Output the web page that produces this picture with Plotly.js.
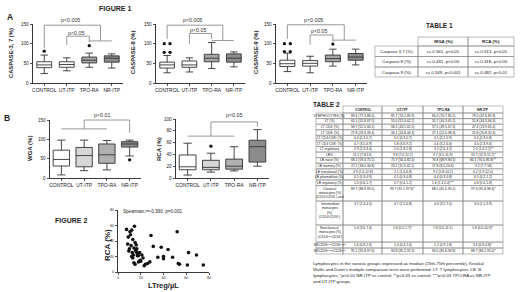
<!DOCTYPE html>
<html><head><meta charset="utf-8">
<script src="https://cdn.plot.ly/plotly-3.0.1.min.js"></script>
<style>html,body{margin:0;padding:0;background:#fff}#chart{width:520px;height:292px}</style>
</head><body><div id="chart"></div>
<script>
const W=520,H=292;
const fam='"Liberation Sans", Arial, sans-serif';
const groups=['CONTROL','UT-ITP','TPO-RA','NR-ITP'];

// FIGURE 1A - Caspase-3,7 (%)
const c37Low=[24,31,40,38];
const c37Q1=[39,40,51,53];
const c37Med=[46,47,58,63];
const c37Q3=[54,54,66,69];
const c37High=[71,64,76,74];
const c37OutGroup=['CONTROL','TPO-RA'];
const c37OutVal=[81,95];
// Caspase-8 (%)
const c8Low=[26,28,37,41];
const c8Q1=[38,40,54,53];
const c8Med=[46,46,63,63];
const c8Q3=[53,56,73,74];
const c8High=[70,64,103,79];
const c8OutGroup=['CONTROL','CONTROL','CONTROL','CONTROL'];
const c8OutVal=[100,100,78,78];
// Caspase-9 (%)
const c9Low=[29,26,43,46];
const c9Q1=[42,43,54,58];
const c9Med=[49,50,62,66];
const c9Q3=[58,57,71,75];
const c9High=[76,68,86,86];
const c9OutGroup=['CONTROL','CONTROL','CONTROL','CONTROL','TPO-RA'];
const c9OutVal=[100,100,80,80,99];
// FIGURE 1B - WGA (%)
const wgaLow=[8,19,21,57];
const wgaQ1=[31,29,38,80];
const wgaMed=[48,58,60,88];
const wgaQ3=[72,79,88,94];
const wgaHigh=[98,98,97,98];
const wgaOutGroup=['NR-ITP'];
const wgaOutVal=[47];
// RCA (%)
const rcaLow=[5,10,12,20];
const rcaQ1=[14,14,15,27];
const rcaMed=[19,18,20,53];
const rcaQ3=[39,30,32,64];
const rcaHigh=[59,42,53,82];
const rcaOutGroup=['UT-ITP'];
const rcaOutVal=[54];

// FIGURE 2 - scatter
const ltreg=[7.5,9,10.5,11,12,13,14.5,15,16,8.5,9.5,10,11.5,12.5,13.5,14,15.5,16.5,17,18,19,20,21,22,23,12,13,14,15,16,17,18,19.5,24,26,28,29,31,35,38,40,40,44,48,52,53,54,61,62,69,75];
const rcaPct=[55,45,52,48,54,42,59,38,35,36,27,30,34,25,22,31,28,30,24,21,25,14,22,18,8,20,18,12,10,26,21,13,15,10,11,13,47,33,19,32,20,17,29,19,52,11,10,9,25,22,9];
const spearman='Spearman r=-0.390, p=0.001';

// TABLE 1
const t1Head=['WGA (%)','RCA (%)'];
const t1Rows=['Caspase 3,7 (%)','Caspase 8 (%)','Caspase 9 (%)'];
const t1Wga=['r= 0.561, p&lt;0.01','r= 0.431, p&lt;0.05','r= 0.549, p&lt;0.001'];
const t1Rca=['r= 0.513, p&lt;0.01','r= 0.318, p&lt;0.05','r= 0.482, p&lt;0.01'];

// TABLE 2 (multi-line labels split by "|")
const t2Head=['CONTROL','UT-ITP','TPO-RA','NR-ITP'];
const t2Labels=['LYMPHOCYTES (%)','LT (%)','LT CD4⁺ (%)','LT CD8⁺ (%)','LT CD4⁺CD8⁺ (%)','LT CD4⁻CD8⁻ (%)','LT regulatory','LB%','LB naive (%)','LB memory (%)','LB transitional (%)','LB plasmablast (%)','LB regulatory (%)','Classical|monocytes (%)|(CD14⁺CD16⁻) and','Intermediate|monocytes|(%)|(CD14⁺CD16⁺)','Nonclassical|monocytes (%)|(CD14ᵈⁱᵐCD16⁺)','NKCD56ᵈⁱᵐCD16ᵇʳⁱᵍʰᵗ','NKCD56ᵇʳⁱᵍʰᵗCD16ᵈⁱᵐ'];
const t2Control=['83.6 (77.3-86.0)','61.5 (55.8-67.5)','58.7 (52.5-66.1)','27.8 (23.3-33.4)','0.4 (0.3-0.7)','4.7 (3.5-6.9)','2.9 (2.3-3.4)','11.2 (7.8-13)','68.2 (59.4-75.1)','27.2 (18.0-34.8)','4.9 (2.4-12.8)','0.5 (0.3-0.9)','1.0 (0.6-1.7)','89.7 (88.9-93.5)','3.7 (2.4-4.5)','5.4 (3.6-7.4)','1.6 (0.8-2.6)','95.1 (91.8-97.0)'];
const t2UtItp=['81.7 (74.2-85.9)','55.0 (52.0-62.2)','58.2 (43.1-61.5)','34.1 (24.8-44.3)','0.5 (0.3-0.7)','5.8 (3.6-9.2)','2.4 (1.8-2.8)','9.8 (7.0-12.2)','71.7 (56.4-82.0)','23.2 (11.9-42.1)','2.1 (1.4-6.8)','0.5 (0.3-0.8)','0.7 (0.4-1.2)','93.7 (91.1-97.8)*','4.7 (1.5-6.8)','1.6 (0.5-2.7)*','1.0 (0.4-2.0)','94.8 (85.2-92.3)'];
const t2TpoRa=['80.0 (70.7-85.5)','55.7 (44.3-65.1)','57.5 (49.5-67.3)','27.1 (22.0-38.3)','0.5 (0.2-0.9)','4.6 (3.2-6.6)','3.2 (2.6-4.2)','9.7 (6.5-11.9)','76.8 (68.9-80.5)','17.8 (8.5-24.6)','9.2 (5.8-14.2)','0.4 (0.3-0.8)','1.6 (1.3-2.4)***','88.5 (81.6-90.1)','4.4 (3.2-7.5)','7.8 (5.6-11.1)','1.2 (0.9-1.8)','90.5 (81.8-94.8)'];
const t2NrItp=['79.0 (47.6-85.8)','55.8 (44.3-64.4)','47.4 (23.9-65.4)','25.8 (20.8-32.4)','0.5 (0.3-0.8)','4.0 (2.3-9.4)','2.0 (1.4-2.2)**','13.7 (12.9-15.7)*','84.1 (70.0-85.8)**','9.2 (7.7-58)','6.2 (1.9-12.0)','0.5 (0.2-1.2)','0.8 (0.4-1.8)','97.3 (91.8-98.4)*','3.0 (1.1-3.9)','1.8 (0.6-10.9)*','3.6 (0.9-4.8)*','88.7 (84.1-93.4)*'];
const footnoteLines=["Lymphocytes in the various groups expressed as median (25th-75th percentile). Kruskal","Wallis and Dunn's multiple comparison tests were performed: LT: T lymphocytes; LB: B","lymphocytes; *p&lt;0.01 NR-ITP vs control; **p&lt;0.05 vs control; ***p&lt;0.05 TPO-RA vs NR-ITP","and UT-ITP groups."];

// ---------- layout helpers (positions/styles) ----------
const P={
 a1:{xa:'x',ya:'y',px:[33,123],py:[24,83],yr:[0,150]},
 a2:{xa:'x2',ya:'y2',px:[156,245],py:[24,83],yr:[0,150]},
 a3:{xa:'x3',ya:'y3',px:[276,367],py:[24,83],yr:[0,150]},
 b1:{xa:'x4',ya:'y4',px:[50,141],py:[120,178],yr:[0,150]},
 b2:{xa:'x5',ya:'y5',px:[176,269],py:[119,178],yr:[0,100]},
 f2:{xa:'x6',ya:'y6',px:[118,209],py:[210,272],yr:[0,80],xr:[0,80]}
};
const data=[],shapes=[],ann=[];
function X(p,v){const r=p.xr||[-0.5,3.5];return (p.px[0]+(v-r[0])/(r[1]-r[0])*(p.px[1]-p.px[0]))/W;}
function Y(p,v){return 1-(p.py[1]-(v-p.yr[0])/(p.yr[1]-p.yr[0])*(p.py[1]-p.py[0]))/H;}
function seg(x0,y0,x1,y1,c,w){shapes.push({type:'line',xref:'paper',yref:'paper',x0,y0,x1,y1,line:{color:c||'#8c8c8c',width:w||0.9}});}
function txt(x,y,t,size,o,bold,color){ann.push(Object.assign({xref:'paper',yref:'paper',x,y,text:t,showarrow:false,xanchor:'center',yanchor:'middle',borderpad:0,
  font:{family:fam,size:size,color:color||'#222',weight:bold?'bold':'normal'}},o||{}));}
function pxT(xp,yp,t,size,o,bold,color){txt(xp/W,1-yp/H,t,size,o,bold,color);}
function bracket(p,xl,xr,yt,yl,yr){seg(X(p,xl),Y(p,yl),X(p,xl),Y(p,yt));seg(X(p,xl),Y(p,yt),X(p,xr),Y(p,yt));seg(X(p,xr),Y(p,yt),X(p,xr),Y(p,yr));}
function gline(p,x0,x1,y){seg(X(p,x0),Y(p,y),X(p,x1),Y(p,y));}
function ptxt(p,x,v,t){txt(X(p,x),Y(p,v),t,5.3,null,false,'#333');}
function axName(a){return a[0]+'axis'+a.slice(1);}

const fillsA=['#ffffff','#ffffff','#a6a6a6','#8c8c8c'];
const fillsB=['#ffffff','#d6d6d6','#b0b0b0','#8c8c8c'];
function addBoxes(p,low,q1,med,q3,high,fills,width){
  groups.forEach((g,i)=>{
    data.push({type:'box',xaxis:p.xa,yaxis:p.ya,x:[i],lowerfence:[low[i]],q1:[q1[i]],median:[med[i]],q3:[q3[i]],upperfence:[high[i]],
      width:width,whiskerwidth:0.5,fillcolor:fills[i],line:{color:'#333',width:0.9},boxpoints:false,hoverinfo:'skip',showlegend:false});
  });
}
function addOut(p,og,ov){
  const xs=[];
  og.forEach((g,i)=>{
    const gi=groups.indexOf(g);
    let before=0,partner=false;
    og.forEach((g2,j)=>{if(j!==i&&g2===g&&Math.abs(ov[j]-ov[i])<3){partner=true;if(j<i)before++;}});
    xs.push(partner?gi+(before===0?-0.13:0.13):gi);
  });
  data.push({type:'scatter',mode:'markers',xaxis:p.xa,yaxis:p.ya,x:xs,y:ov,marker:{color:'#111',size:3.3},hoverinfo:'skip',showlegend:false,cliponaxis:false});
}

addBoxes(P.a1,c37Low,c37Q1,c37Med,c37Q3,c37High,fillsA,0.66); addOut(P.a1,c37OutGroup,c37OutVal);
addBoxes(P.a2,c8Low,c8Q1,c8Med,c8Q3,c8High,fillsA,0.66); addOut(P.a2,c8OutGroup,c8OutVal);
addBoxes(P.a3,c9Low,c9Q1,c9Med,c9Q3,c9High,fillsA,0.66); addOut(P.a3,c9OutGroup,c9OutVal);
addBoxes(P.b1,wgaLow,wgaQ1,wgaMed,wgaQ3,wgaHigh,fillsB,0.72); addOut(P.b1,wgaOutGroup,wgaOutVal);
addBoxes(P.b2,rcaLow,rcaQ1,rcaMed,rcaQ3,rcaHigh,fillsB,0.72); addOut(P.b2,rcaOutGroup,rcaOutVal);
data.push({type:'scatter',mode:'markers',xaxis:'x6',yaxis:'y6',x:ltreg,y:rcaPct,marker:{color:'#111',size:3.6},hoverinfo:'skip',showlegend:false,cliponaxis:false});

const layout={width:W,height:H,margin:{l:0,r:0,t:0,b:0},paper_bgcolor:'#fff',plot_bgcolor:'#fff',showlegend:false,
  font:{family:fam,color:'#222'},boxmode:'overlay',shapes:shapes,annotations:ann};

function setAxes(p,cat,yvals,tfx,tfy,xvals){
  layout[axName(p.xa)]={domain:[p.px[0]/W,p.px[1]/W],range:p.xr||[-0.5,3.5],anchor:p.ya,tickangle:0,
    tickvals:cat?[0,1,2,3]:xvals,ticktext:cat?groups:xvals.map(String),tickfont:{size:tfx,family:fam,color:'#222'},
    showline:true,linecolor:'#222',linewidth:0.9,ticks:'outside',ticklen:2,tickwidth:0.8,tickcolor:'#222',
    showgrid:false,zeroline:false,fixedrange:true};
  layout[axName(p.ya)]={domain:[1-p.py[1]/H,1-p.py[0]/H],range:p.yr,anchor:p.xa,
    tickvals:yvals,ticktext:yvals.map(String),tickfont:{size:tfy,family:fam,color:'#222'},
    showline:true,linecolor:'#222',linewidth:0.9,ticks:'outside',ticklen:2.5,tickwidth:0.8,tickcolor:'#222',
    showgrid:false,zeroline:false,fixedrange:true};
}
setAxes(P.a1,true,[0,50,100,150],5,4.6);
setAxes(P.a2,true,[0,50,100,150],5,4.6);
setAxes(P.a3,true,[0,50,100,150],5,4.6);
setAxes(P.b1,true,[0,50,100,150],5,4.6);
setAxes(P.b2,true,[0,20,40,60,80,100],5,4.6);
setAxes(P.f2,false,[0,20,40,60,80],3.6,3.6,[0,20,40,60,80]);

// significance brackets
bracket(P.a1,0,2.5,147,89,107); gline(P.a1,2,3,107); bracket(P.a1,1,2,119,97,104);
ptxt(P.a1,1.15,160,'p&lt;0.005'); ptxt(P.a1,1.4,128,'p&lt;0.05');
bracket(P.a2,0,2.5,147,112,108); gline(P.a2,2,3,108); bracket(P.a2,1,2,126,100,112);
ptxt(P.a2,1.15,160,'p&lt;0.005'); ptxt(P.a2,1.4,135,'p&lt;0.05');
bracket(P.a3,0,2.5,148,112,109); gline(P.a3,2,3,109); bracket(P.a3,1,2,122,97,105);
ptxt(P.a3,1.15,160,'p&lt;0.005'); ptxt(P.a3,1.4,131,'p&lt;0.05');
gline(P.b1,0,2,127); bracket(P.b1,1,3,150,127,117); ptxt(P.b1,1.8,163,'p&lt;0.01');
gline(P.b2,0,2,71); bracket(P.b2,1,3,95,71,87); ptxt(P.b2,2,107,'p&lt;0.05');

// titles and axis titles
pxT(115,8.5,'FIGURE 1',7,null,true);
pxT(9.5,17.5,'A',8.5,null,true);
pxT(7,117.5,'B',8.5,null,true);
pxT(71,220,'FIGURE 2',7,null,true);
pxT(439,25,'TABLE 1',6.5,null,true);
pxT(326,104,'TABLE 2',6.5,null,true);
const yt={textangle:-90};
pxT(11,53,'CASPASE-3, 7 (%)',5.8,yt,true);
pxT(133,53,'CASPASE-8 (%)',5.8,yt,true);
pxT(256,53,'CASPASE-9 (%)',5.8,yt,true);
pxT(30,149,'WGA (%)',6,yt,true);
pxT(159,149,'RCA (%)',6,yt,true);
pxT(107,245,'RCA (%)',8,yt,true);
pxT(163,285,'LTreg/µL',7.5,null,true);
txt(122/W,1-211/H,spearman,4.6,{xanchor:'left'});

// TABLE 1 (grid + text)
function rect(x0,y0,x1,y1){shapes.push({type:'rect',xref:'paper',yref:'paper',x0:x0/W,x1:x1/W,y0:1-y0/H,y1:1-y1/H,line:{color:'#8a8a8a',width:0.6},fillcolor:'rgba(0,0,0,0)'});}
const t1X=[375,418,468,514], t1Y=[37,46,56.5,67,77];
t1Head.forEach((h,c)=>{rect(t1X[c+1],t1Y[0],t1X[c+2],t1Y[1]);pxT((t1X[c+1]+t1X[c+2])/2,(t1Y[0]+t1Y[1])/2,h,4.4,null,true);});
[t1Rows,t1Wga,t1Rca].forEach((col,c)=>{
  col.forEach((v,r)=>{rect(t1X[c],t1Y[r+1],t1X[c+1],t1Y[r+2]);pxT((t1X[c]+t1X[c+1])/2,(t1Y[r+1]+t1Y[r+2])/2,v,4.4);});
});

// TABLE 2 (grid + text)
const t2X=[316,343,382,423,463,503], t2HeadY=[106,113];
const t2RowH=[5.58,5.58,5.58,5.58,5.58,5.58,5.58,5.58,5.58,5.58,5.58,5.58,5.58,15.5,24,17,6,6];
const t2Line=4.4;
t2Head.forEach((h,c)=>{rect(t2X[c+1],t2HeadY[0],t2X[c+2],t2HeadY[1]);pxT((t2X[c+1]+t2X[c+2])/2,(t2HeadY[0]+t2HeadY[1])/2,h,3.3,null,true);});
let yy=t2HeadY[1];
t2Labels.forEach((lab,r)=>{
  const h=t2RowH[r];
  const parts=lab.split('|');
  const multi=parts.length>1;
  [lab,t2Control[r],t2UtItp[r],t2TpoRa[r],t2NrItp[r]].forEach((v,c)=>{
    rect(t2X[c],yy,t2X[c+1],yy+h);
    const cx=(t2X[c]+t2X[c+1])/2;
    if(multi){ v.split('|').forEach((ln,k)=>pxT(cx,yy+3+k*t2Line,ln,3.3)); }
    else pxT(cx,yy+h/2,v,3.3);
  });
  yy+=h;
});
footnoteLines.forEach((ln,k)=>txt(312/W,1-(263+k*6)/H,ln,4.4,{xanchor:'left'}));

Plotly.newPlot('chart',data,layout,{staticPlot:true,displayModeBar:false});
</script></body></html>
